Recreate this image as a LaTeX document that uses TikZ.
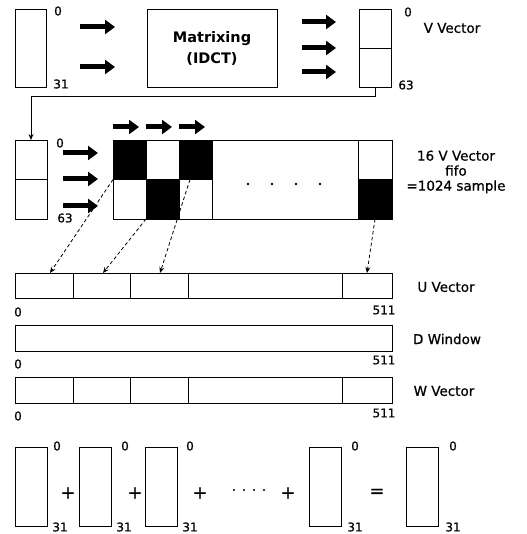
\documentclass[tikz,border=0pt]{standalone}
\usepackage{fontspec}
\setmainfont{DejaVu Sans}
\newfontfamily\labfont{DejaVu Sans}[FakeBold=0.7]
\usetikzlibrary{arrows.meta}
\begin{document}
\begin{tikzpicture}[x=1pt,y=-1pt,
  box/.style={draw, line width=0.9pt, inner sep=0pt, outer sep=0pt, anchor=north west},
  col/.style={box, minimum width=32pt, minimum height=79pt},
  cell/.style={box, minimum width=33pt, minimum height=39.5pt},
  blk/.style={cell, fill=black},
  fat/.style={line width=5pt, -{Triangle[length=10pt,width=14pt]}},
  thinarr/.style={line width=0.8pt, -{Stealth[length=6pt,width=5pt]}},
  dline/.style={line width=0.8pt, dash pattern=on 3.5pt off 2.5pt, -{Stealth[length=6pt,width=5pt]}},
  num/.style={font=\labfont\fontsize{12}{12}\selectfont, inner sep=0pt},
  lab/.style={font=\labfont\fontsize{13.5}{15}\selectfont, inner sep=0pt, align=center},
  op/.style={font=\labfont\fontsize{18}{18}\selectfont, inner sep=0pt}
]
\useasboundingbox (0,0) rectangle (526,534);

% ---------- top row ----------
\node[box, minimum width=31pt, minimum height=78pt] (inv) at (15,9) {};
\node[num] (in0) at (58,11) {0};
\node[num] (in31) at (61,84) {31};
\draw[fat] (80,27) -- (115,27);
\draw[fat] (80,67) -- (115,67);
\node[box, minimum width=130pt, minimum height=78pt, align=center,
      font=\fontsize{14.5}{21}\selectfont\bfseries] (mat) at (147,9) {Matrixing\\(IDCT)};
\draw[fat] (302,22) -- (336,22);
\draw[fat] (302,48) -- (336,48);
\draw[fat] (302,72) -- (336,72);
\node[box, minimum width=32pt, minimum height=78pt] (vvec) at (359,9) {};
\draw[line width=0.9pt] (vvec.west) -- (vvec.east);
\node[num] (v0) at (408,12) {0};
\node[num] (v63) at (406,85) {63};
\node[lab] (vlab) at (452,28) {V Vector};

% connector
\node[col] (fl) at (15,140) {};
\draw[line width=0.9pt] (fl.west) -- (fl.east);
\draw[thinarr] (vvec.south) -- ++(0,9) -| (fl.north);
\node[num] (f0) at (60,143) {0};
\node[num] (f63) at (65,218) {63};
\draw[fat] (63,153) -- (98,153);
\draw[fat] (63,179) -- (98,179);
\draw[fat] (63,206) -- (98,206);

% ---------- fifo ----------
\draw[fat] (113,127) -- (139,127);
\draw[fat] (146,127) -- (172,127);
\draw[fat] (179,127) -- (205,127);
\node[box, minimum width=279pt, minimum height=79pt] (fifo) at (113,140) {};
\node[blk]  (c1t) at (113,140) {};
\node[cell] (c1b) at (113,179.5) {};
\node[cell] (c2t) at (146,140) {};
\node[blk]  (c2b) at (146,179.5) {};
\node[blk]  (c3t) at (179,140) {};
\node[cell] (c3b) at (179,179.5) {};
\node[box, minimum width=34pt, minimum height=39.5pt] (c4t) at (358,140) {};
\node[box, minimum width=34pt, minimum height=39.5pt, fill=black] (c4b) at (358,179.5) {};
\foreach \x in {248,272,296,320} \fill (\x,184) circle (1.3pt);
\node[lab] (flab) at (456,172) {16 V Vector\\fifo\\=1024 sample};

% ---------- U / D / W ----------
\node[box, minimum width=377pt, minimum height=25pt] (U) at (15,273) {};
\foreach \x in {73,130,188,342} \draw[line width=0.9pt] (\x,273) -- (\x,298);
\node[num] at (18,312) {0};
\node[num] at (384,310) {511};
\node[lab] at (446,287) {U Vector};

\coordinate (u1) at (50,273);
\coordinate (u2) at (103,273);
\coordinate (u3) at (160,273);
\coordinate (u4) at (367,273);
\draw[dline] (c1b.north west) -- (u1);
\draw[dline] (c2b.south west) -- (u2);
\draw[dline] ([xshift=11pt]c3b.north west) -- (u3);
\draw[dline] (c4b.south) -- (u4);

\node[box, minimum width=377pt, minimum height=26pt] (D) at (15,325) {};
\node[num] at (18,364) {0};
\node[num] at (384,360) {511};
\node[lab] at (447,339) {D Window};

\node[box, minimum width=377pt, minimum height=26pt] (W) at (15,377) {};
\foreach \x in {73,130,188,342} \draw[line width=0.9pt] (\x,377) -- (\x,403);
\node[num] at (18,416) {0};
\node[num] at (384,413) {511};
\node[lab] at (444,391) {W Vector};

% ---------- bottom sum ----------
\node[col] (s1) at (15,447) {};
\node[num] at (57,446) {0};
\node[num] at (60,527) {31};
\node[op] at (68,493) {+};
\node[col] (s2) at (79,447) {};
\node[num] at (125,446) {0};
\node[num] at (124,527) {31};
\node[op] at (135,493) {+};
\node[col] (s3) at (145,447) {};
\node[num] at (190,446) {0};
\node[num] at (190,527) {31};
\node[op] at (200,493) {+};
\foreach \x in {234,244,254,264} \fill (\x,490) circle (1.1pt);
\node[op] at (288,493) {+};
\node[col] (s4) at (309,447) {};
\node[num] at (355,446) {0};
\node[num] at (355,527) {31};
\node[op] at (377,493) {=};
\node[col] (s5) at (406,447) {};
\node[num] at (453,446) {0};
\node[num] at (453,527) {31};
\end{tikzpicture}
\end{document}
